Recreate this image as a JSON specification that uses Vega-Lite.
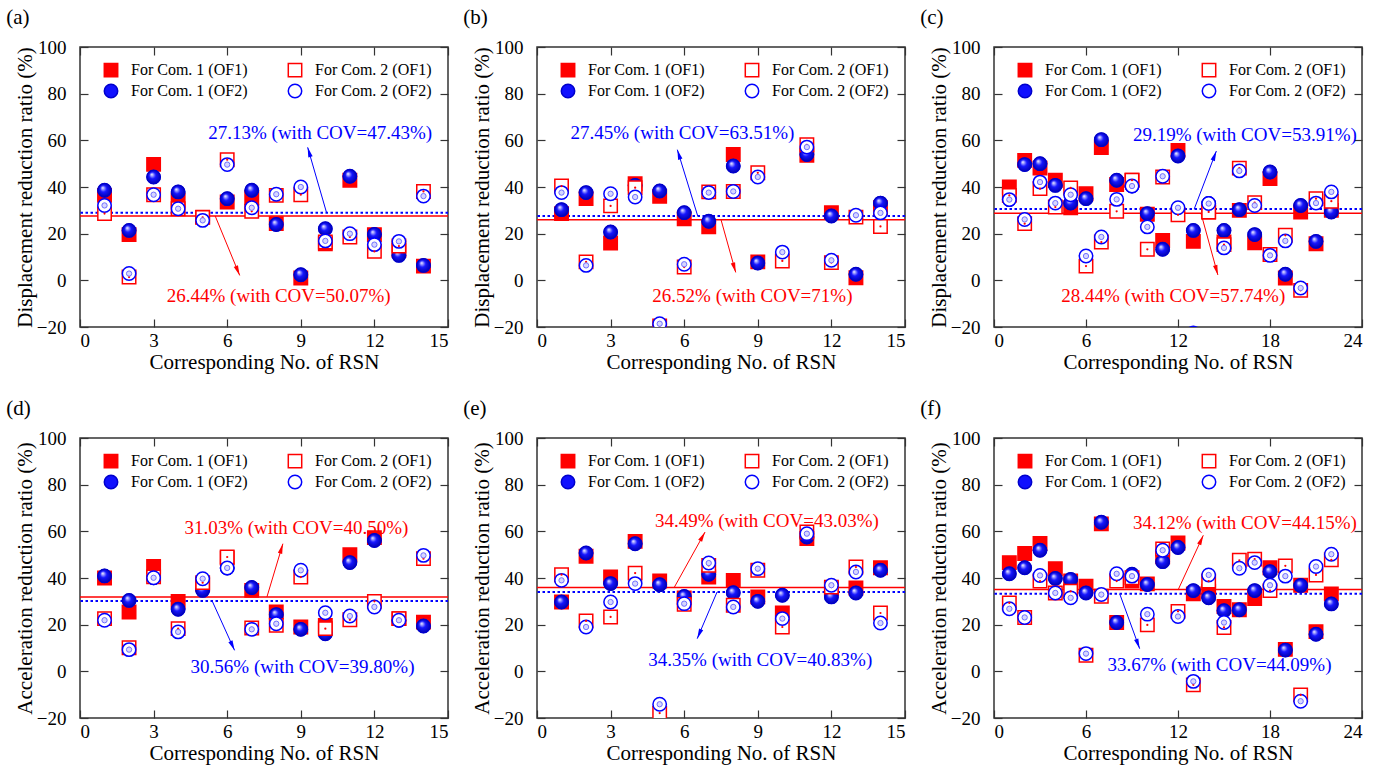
{
"$schema": "https://vega.github.io/schema/vega-lite/v6.json",
"background": "white",
"padding": {"left": 5, "top": 6, "right": 5, "bottom": 2},
"columns": 3,
"spacing": {"row": 24, "column": 12},
"resolve": {"scale": {"shape": "independent", "fill": "independent", "stroke": "independent"}},
"datasets": {
"pts": [
{"p":"a","x":1,"s":"1 (OF1)","v":36.4},{"p":"a","x":2,"s":"1 (OF1)","v":19.6},{"p":"a","x":3,"s":"1 (OF1)","v":49.7},{"p":"a","x":4,"s":"1 (OF1)","v":34.3},{"p":"a","x":5,"s":"1 (OF1)","v":27.1},{"p":"a","x":6,"s":"1 (OF1)","v":33.6},{"p":"a","x":7,"s":"1 (OF1)","v":35.4},{"p":"a","x":8,"s":"1 (OF1)","v":24.3},{"p":"a","x":9,"s":"1 (OF1)","v":1.0},{"p":"a","x":10,"s":"1 (OF1)","v":15.7},{"p":"a","x":11,"s":"1 (OF1)","v":42.9},{"p":"a","x":12,"s":"1 (OF1)","v":19.6},{"p":"a","x":13,"s":"1 (OF1)","v":12.9},{"p":"a","x":14,"s":"1 (OF1)","v":6.1},
{"p":"a","x":1,"s":"1 (OF2)","v":38.6},{"p":"a","x":2,"s":"1 (OF2)","v":21.4},{"p":"a","x":3,"s":"1 (OF2)","v":44.3},{"p":"a","x":4,"s":"1 (OF2)","v":37.9},{"p":"a","x":5,"s":"1 (OF2)","v":26.3},{"p":"a","x":6,"s":"1 (OF2)","v":35.0},{"p":"a","x":7,"s":"1 (OF2)","v":38.6},{"p":"a","x":8,"s":"1 (OF2)","v":23.9},{"p":"a","x":9,"s":"1 (OF2)","v":2.4},{"p":"a","x":10,"s":"1 (OF2)","v":22.1},{"p":"a","x":11,"s":"1 (OF2)","v":44.6},{"p":"a","x":12,"s":"1 (OF2)","v":19.7},{"p":"a","x":13,"s":"1 (OF2)","v":10.7},{"p":"a","x":14,"s":"1 (OF2)","v":6.4},
{"p":"a","x":1,"s":"2 (OF1)","v":28.6},{"p":"a","x":2,"s":"2 (OF1)","v":1.4},{"p":"a","x":3,"s":"2 (OF1)","v":36.7},{"p":"a","x":4,"s":"2 (OF1)","v":30.7},{"p":"a","x":5,"s":"2 (OF1)","v":27.0},{"p":"a","x":6,"s":"2 (OF1)","v":51.7},{"p":"a","x":7,"s":"2 (OF1)","v":29.6},{"p":"a","x":8,"s":"2 (OF1)","v":36.4},{"p":"a","x":9,"s":"2 (OF1)","v":36.7},{"p":"a","x":10,"s":"2 (OF1)","v":16.4},{"p":"a","x":11,"s":"2 (OF1)","v":18.6},{"p":"a","x":12,"s":"2 (OF1)","v":12.4},{"p":"a","x":13,"s":"2 (OF1)","v":14.7},{"p":"a","x":14,"s":"2 (OF1)","v":38.1},
{"p":"a","x":1,"s":"2 (OF2)","v":32.1},{"p":"a","x":2,"s":"2 (OF2)","v":2.9},{"p":"a","x":3,"s":"2 (OF2)","v":36.7},{"p":"a","x":4,"s":"2 (OF2)","v":30.7},{"p":"a","x":5,"s":"2 (OF2)","v":25.7},{"p":"a","x":6,"s":"2 (OF2)","v":49.6},{"p":"a","x":7,"s":"2 (OF2)","v":31.1},{"p":"a","x":8,"s":"2 (OF2)","v":36.9},{"p":"a","x":9,"s":"2 (OF2)","v":40.0},{"p":"a","x":10,"s":"2 (OF2)","v":16.9},{"p":"a","x":11,"s":"2 (OF2)","v":20.0},{"p":"a","x":12,"s":"2 (OF2)","v":15.3},{"p":"a","x":13,"s":"2 (OF2)","v":16.7},{"p":"a","x":14,"s":"2 (OF2)","v":36.1},
{"p":"b","x":1,"s":"1 (OF1)","v":28.6},{"p":"b","x":2,"s":"1 (OF1)","v":35.0},{"p":"b","x":3,"s":"1 (OF1)","v":16.0},{"p":"b","x":4,"s":"1 (OF1)","v":41.4},{"p":"b","x":5,"s":"1 (OF1)","v":36.0},{"p":"b","x":6,"s":"1 (OF1)","v":26.4},{"p":"b","x":7,"s":"1 (OF1)","v":22.9},{"p":"b","x":8,"s":"1 (OF1)","v":53.9},{"p":"b","x":9,"s":"1 (OF1)","v":7.9},{"p":"b","x":11,"s":"1 (OF1)","v":53.6},{"p":"b","x":12,"s":"1 (OF1)","v":29.0},{"p":"b","x":13,"s":"1 (OF1)","v":1.1},{"p":"b","x":14,"s":"1 (OF1)","v":31.1},
{"p":"b","x":1,"s":"1 (OF2)","v":30.3},{"p":"b","x":2,"s":"1 (OF2)","v":37.6},{"p":"b","x":3,"s":"1 (OF2)","v":20.7},{"p":"b","x":4,"s":"1 (OF2)","v":40.7},{"p":"b","x":5,"s":"1 (OF2)","v":38.3},{"p":"b","x":6,"s":"1 (OF2)","v":29.0},{"p":"b","x":7,"s":"1 (OF2)","v":25.3},{"p":"b","x":8,"s":"1 (OF2)","v":49.0},{"p":"b","x":9,"s":"1 (OF2)","v":7.4},{"p":"b","x":11,"s":"1 (OF2)","v":53.9},{"p":"b","x":12,"s":"1 (OF2)","v":27.6},{"p":"b","x":13,"s":"1 (OF2)","v":2.6},{"p":"b","x":14,"s":"1 (OF2)","v":33.1},
{"p":"b","x":1,"s":"2 (OF1)","v":40.4},{"p":"b","x":2,"s":"2 (OF1)","v":7.9},{"p":"b","x":3,"s":"2 (OF1)","v":31.9},{"p":"b","x":4,"s":"2 (OF1)","v":39.7},{"p":"b","x":5,"s":"2 (OF1)","v":-19.5},{"p":"b","x":6,"s":"2 (OF1)","v":5.7},{"p":"b","x":7,"s":"2 (OF1)","v":37.9},{"p":"b","x":8,"s":"2 (OF1)","v":38.1},{"p":"b","x":9,"s":"2 (OF1)","v":46.1},{"p":"b","x":10,"s":"2 (OF1)","v":8.3},{"p":"b","x":11,"s":"2 (OF1)","v":58.1},{"p":"b","x":12,"s":"2 (OF1)","v":7.6},{"p":"b","x":13,"s":"2 (OF1)","v":27.1},{"p":"b","x":14,"s":"2 (OF1)","v":23.1},
{"p":"b","x":1,"s":"2 (OF2)","v":37.6},{"p":"b","x":2,"s":"2 (OF2)","v":6.4},{"p":"b","x":3,"s":"2 (OF2)","v":37.1},{"p":"b","x":4,"s":"2 (OF2)","v":35.7},{"p":"b","x":5,"s":"2 (OF2)","v":-18.6},{"p":"b","x":6,"s":"2 (OF2)","v":6.9},{"p":"b","x":7,"s":"2 (OF2)","v":37.6},{"p":"b","x":8,"s":"2 (OF2)","v":38.1},{"p":"b","x":9,"s":"2 (OF2)","v":44.3},{"p":"b","x":10,"s":"2 (OF2)","v":12.1},{"p":"b","x":11,"s":"2 (OF2)","v":57.1},{"p":"b","x":12,"s":"2 (OF2)","v":8.6},{"p":"b","x":13,"s":"2 (OF2)","v":27.9},{"p":"b","x":14,"s":"2 (OF2)","v":28.9},
{"p":"c","x":1,"s":"1 (OF1)","v":40.0},{"p":"c","x":2,"s":"1 (OF1)","v":51.4},{"p":"c","x":3,"s":"1 (OF1)","v":48.1},{"p":"c","x":4,"s":"1 (OF1)","v":42.9},{"p":"c","x":5,"s":"1 (OF1)","v":31.1},{"p":"c","x":6,"s":"1 (OF1)","v":37.1},{"p":"c","x":7,"s":"1 (OF1)","v":56.9},{"p":"c","x":8,"s":"1 (OF1)","v":41.1},{"p":"c","x":9,"s":"1 (OF1)","v":42.9},{"p":"c","x":10,"s":"1 (OF1)","v":28.3},{"p":"c","x":11,"s":"1 (OF1)","v":17.1},{"p":"c","x":12,"s":"1 (OF1)","v":55.7},{"p":"c","x":13,"s":"1 (OF1)","v":16.7},{"p":"c","x":14,"s":"1 (OF1)","v":29.3},{"p":"c","x":15,"s":"1 (OF1)","v":16.4},{"p":"c","x":16,"s":"1 (OF1)","v":30.0},{"p":"c","x":17,"s":"1 (OF1)","v":16.1},{"p":"c","x":18,"s":"1 (OF1)","v":43.6},{"p":"c","x":19,"s":"1 (OF1)","v":1.0},{"p":"c","x":20,"s":"1 (OF1)","v":29.3},{"p":"c","x":21,"s":"1 (OF1)","v":15.7},{"p":"c","x":22,"s":"1 (OF1)","v":30.0},
{"p":"c","x":1,"s":"1 (OF2)","v":34.6},{"p":"c","x":2,"s":"1 (OF2)","v":49.6},{"p":"c","x":3,"s":"1 (OF2)","v":50.0},{"p":"c","x":4,"s":"1 (OF2)","v":40.7},{"p":"c","x":5,"s":"1 (OF2)","v":33.1},{"p":"c","x":6,"s":"1 (OF2)","v":35.0},{"p":"c","x":7,"s":"1 (OF2)","v":60.3},{"p":"c","x":8,"s":"1 (OF2)","v":42.9},{"p":"c","x":9,"s":"1 (OF2)","v":40.4},{"p":"c","x":10,"s":"1 (OF2)","v":28.6},{"p":"c","x":11,"s":"1 (OF2)","v":13.3},{"p":"c","x":12,"s":"1 (OF2)","v":53.3},{"p":"c","x":13,"s":"1 (OF2)","v":21.4},{"p":"c","x":14,"s":"1 (OF2)","v":32.9},{"p":"c","x":15,"s":"1 (OF2)","v":21.4},{"p":"c","x":16,"s":"1 (OF2)","v":30.3},{"p":"c","x":17,"s":"1 (OF2)","v":19.6},{"p":"c","x":18,"s":"1 (OF2)","v":46.4},{"p":"c","x":19,"s":"1 (OF2)","v":2.6},{"p":"c","x":20,"s":"1 (OF2)","v":32.1},{"p":"c","x":21,"s":"1 (OF2)","v":16.7},{"p":"c","x":22,"s":"1 (OF2)","v":29.3},
{"p":"c","x":1,"s":"2 (OF1)","v":36.4},{"p":"c","x":2,"s":"2 (OF1)","v":24.3},{"p":"c","x":3,"s":"2 (OF1)","v":39.3},{"p":"c","x":4,"s":"2 (OF1)","v":31.4},{"p":"c","x":5,"s":"2 (OF1)","v":39.6},{"p":"c","x":6,"s":"2 (OF1)","v":6.1},{"p":"c","x":7,"s":"2 (OF1)","v":16.4},{"p":"c","x":8,"s":"2 (OF1)","v":29.6},{"p":"c","x":9,"s":"2 (OF1)","v":42.9},{"p":"c","x":10,"s":"2 (OF1)","v":13.3},{"p":"c","x":11,"s":"2 (OF1)","v":44.3},{"p":"c","x":12,"s":"2 (OF1)","v":28.1},{"p":"c","x":13,"s":"2 (OF1)","v":-25.0},{"p":"c","x":14,"s":"2 (OF1)","v":29.3},{"p":"c","x":15,"s":"2 (OF1)","v":15.3},{"p":"c","x":16,"s":"2 (OF1)","v":48.1},{"p":"c","x":17,"s":"2 (OF1)","v":33.3},{"p":"c","x":18,"s":"2 (OF1)","v":11.1},{"p":"c","x":19,"s":"2 (OF1)","v":19.3},{"p":"c","x":20,"s":"2 (OF1)","v":-4.3},{"p":"c","x":21,"s":"2 (OF1)","v":35.0},{"p":"c","x":22,"s":"2 (OF1)","v":33.9},
{"p":"c","x":1,"s":"2 (OF2)","v":34.6},{"p":"c","x":2,"s":"2 (OF2)","v":26.1},{"p":"c","x":3,"s":"2 (OF2)","v":42.1},{"p":"c","x":4,"s":"2 (OF2)","v":33.1},{"p":"c","x":5,"s":"2 (OF2)","v":36.7},{"p":"c","x":6,"s":"2 (OF2)","v":10.4},{"p":"c","x":7,"s":"2 (OF2)","v":18.6},{"p":"c","x":8,"s":"2 (OF2)","v":34.7},{"p":"c","x":9,"s":"2 (OF2)","v":40.4},{"p":"c","x":10,"s":"2 (OF2)","v":22.9},{"p":"c","x":11,"s":"2 (OF2)","v":44.6},{"p":"c","x":12,"s":"2 (OF2)","v":31.1},{"p":"c","x":13,"s":"2 (OF2)","v":-22.5},{"p":"c","x":14,"s":"2 (OF2)","v":32.9},{"p":"c","x":15,"s":"2 (OF2)","v":13.9},{"p":"c","x":16,"s":"2 (OF2)","v":46.9},{"p":"c","x":17,"s":"2 (OF2)","v":32.1},{"p":"c","x":18,"s":"2 (OF2)","v":10.7},{"p":"c","x":19,"s":"2 (OF2)","v":16.9},{"p":"c","x":20,"s":"2 (OF2)","v":-3.3},{"p":"c","x":21,"s":"2 (OF2)","v":33.1},{"p":"c","x":22,"s":"2 (OF2)","v":37.9},
{"p":"d","x":1,"s":"1 (OF1)","v":40.0},{"p":"d","x":2,"s":"1 (OF1)","v":25.4},{"p":"d","x":3,"s":"1 (OF1)","v":45.0},{"p":"d","x":4,"s":"1 (OF1)","v":30.0},{"p":"d","x":5,"s":"1 (OF1)","v":37.3},{"p":"d","x":6,"s":"1 (OF1)","v":48.6},{"p":"d","x":7,"s":"1 (OF1)","v":34.7},{"p":"d","x":8,"s":"1 (OF1)","v":25.4},{"p":"d","x":9,"s":"1 (OF1)","v":19.0},{"p":"d","x":10,"s":"1 (OF1)","v":19.7},{"p":"d","x":11,"s":"1 (OF1)","v":50.0},{"p":"d","x":12,"s":"1 (OF1)","v":57.3},{"p":"d","x":13,"s":"1 (OF1)","v":22.6},{"p":"d","x":14,"s":"1 (OF1)","v":21.1},
{"p":"d","x":1,"s":"1 (OF2)","v":40.9},{"p":"d","x":2,"s":"1 (OF2)","v":30.4},{"p":"d","x":3,"s":"1 (OF2)","v":40.1},{"p":"d","x":4,"s":"1 (OF2)","v":26.6},{"p":"d","x":5,"s":"1 (OF2)","v":34.7},{"p":"d","x":6,"s":"1 (OF2)","v":44.3},{"p":"d","x":7,"s":"1 (OF2)","v":35.9},{"p":"d","x":8,"s":"1 (OF2)","v":24.3},{"p":"d","x":9,"s":"1 (OF2)","v":18.0},{"p":"d","x":10,"s":"1 (OF2)","v":16.1},{"p":"d","x":11,"s":"1 (OF2)","v":46.6},{"p":"d","x":12,"s":"1 (OF2)","v":56.1},{"p":"d","x":13,"s":"1 (OF2)","v":21.9},{"p":"d","x":14,"s":"1 (OF2)","v":19.4},
{"p":"d","x":1,"s":"2 (OF1)","v":22.6},{"p":"d","x":2,"s":"2 (OF1)","v":10.1},{"p":"d","x":3,"s":"2 (OF1)","v":40.5},{"p":"d","x":4,"s":"2 (OF1)","v":18.3},{"p":"d","x":5,"s":"2 (OF1)","v":38.0},{"p":"d","x":6,"s":"2 (OF1)","v":49.0},{"p":"d","x":7,"s":"2 (OF1)","v":18.6},{"p":"d","x":8,"s":"2 (OF1)","v":19.7},{"p":"d","x":9,"s":"2 (OF1)","v":40.4},{"p":"d","x":10,"s":"2 (OF1)","v":18.3},{"p":"d","x":11,"s":"2 (OF1)","v":22.1},{"p":"d","x":12,"s":"2 (OF1)","v":30.0},{"p":"d","x":13,"s":"2 (OF1)","v":22.6},{"p":"d","x":14,"s":"2 (OF1)","v":48.3},
{"p":"d","x":1,"s":"2 (OF2)","v":21.9},{"p":"d","x":2,"s":"2 (OF2)","v":9.3},{"p":"d","x":3,"s":"2 (OF2)","v":40.1},{"p":"d","x":4,"s":"2 (OF2)","v":16.9},{"p":"d","x":5,"s":"2 (OF2)","v":39.7},{"p":"d","x":6,"s":"2 (OF2)","v":44.3},{"p":"d","x":7,"s":"2 (OF2)","v":18.0},{"p":"d","x":8,"s":"2 (OF2)","v":20.4},{"p":"d","x":9,"s":"2 (OF2)","v":43.3},{"p":"d","x":10,"s":"2 (OF2)","v":25.1},{"p":"d","x":11,"s":"2 (OF2)","v":23.7},{"p":"d","x":12,"s":"2 (OF2)","v":27.6},{"p":"d","x":13,"s":"2 (OF2)","v":21.9},{"p":"d","x":14,"s":"2 (OF2)","v":49.7},
{"p":"e","x":1,"s":"1 (OF1)","v":29.7},{"p":"e","x":2,"s":"1 (OF1)","v":49.3},{"p":"e","x":3,"s":"1 (OF1)","v":40.4},{"p":"e","x":4,"s":"1 (OF1)","v":55.7},{"p":"e","x":5,"s":"1 (OF1)","v":38.7},{"p":"e","x":6,"s":"1 (OF1)","v":31.5},{"p":"e","x":7,"s":"1 (OF1)","v":40.4},{"p":"e","x":8,"s":"1 (OF1)","v":39.0},{"p":"e","x":9,"s":"1 (OF1)","v":31.9},{"p":"e","x":10,"s":"1 (OF1)","v":25.0},{"p":"e","x":11,"s":"1 (OF1)","v":56.9},{"p":"e","x":12,"s":"1 (OF1)","v":35.4},{"p":"e","x":13,"s":"1 (OF1)","v":35.7},{"p":"e","x":14,"s":"1 (OF1)","v":44.4},
{"p":"e","x":1,"s":"1 (OF2)","v":29.7},{"p":"e","x":2,"s":"1 (OF2)","v":50.7},{"p":"e","x":3,"s":"1 (OF2)","v":37.6},{"p":"e","x":4,"s":"1 (OF2)","v":54.7},{"p":"e","x":5,"s":"1 (OF2)","v":37.1},{"p":"e","x":6,"s":"1 (OF2)","v":32.1},{"p":"e","x":7,"s":"1 (OF2)","v":41.6},{"p":"e","x":8,"s":"1 (OF2)","v":33.7},{"p":"e","x":9,"s":"1 (OF2)","v":30.0},{"p":"e","x":10,"s":"1 (OF2)","v":32.6},{"p":"e","x":11,"s":"1 (OF2)","v":57.6},{"p":"e","x":12,"s":"1 (OF2)","v":31.9},{"p":"e","x":13,"s":"1 (OF2)","v":33.6},{"p":"e","x":14,"s":"1 (OF2)","v":43.3},
{"p":"e","x":1,"s":"2 (OF1)","v":41.4},{"p":"e","x":2,"s":"2 (OF1)","v":21.6},{"p":"e","x":3,"s":"2 (OF1)","v":23.3},{"p":"e","x":4,"s":"2 (OF1)","v":42.1},{"p":"e","x":5,"s":"2 (OF1)","v":-17.9},{"p":"e","x":6,"s":"2 (OF1)","v":28.7},{"p":"e","x":7,"s":"2 (OF1)","v":45.4},{"p":"e","x":8,"s":"2 (OF1)","v":28.3},{"p":"e","x":9,"s":"2 (OF1)","v":43.3},{"p":"e","x":10,"s":"2 (OF1)","v":19.0},{"p":"e","x":11,"s":"2 (OF1)","v":59.7},{"p":"e","x":12,"s":"2 (OF1)","v":36.1},{"p":"e","x":13,"s":"2 (OF1)","v":44.7},{"p":"e","x":14,"s":"2 (OF1)","v":25.0},
{"p":"e","x":1,"s":"2 (OF2)","v":39.0},{"p":"e","x":2,"s":"2 (OF2)","v":19.0},{"p":"e","x":3,"s":"2 (OF2)","v":29.7},{"p":"e","x":4,"s":"2 (OF2)","v":37.6},{"p":"e","x":5,"s":"2 (OF2)","v":-14.1},{"p":"e","x":6,"s":"2 (OF2)","v":29.0},{"p":"e","x":7,"s":"2 (OF2)","v":46.4},{"p":"e","x":8,"s":"2 (OF2)","v":27.6},{"p":"e","x":9,"s":"2 (OF2)","v":44.0},{"p":"e","x":10,"s":"2 (OF2)","v":22.6},{"p":"e","x":11,"s":"2 (OF2)","v":59.0},{"p":"e","x":12,"s":"2 (OF2)","v":36.9},{"p":"e","x":13,"s":"2 (OF2)","v":42.6},{"p":"e","x":14,"s":"2 (OF2)","v":20.7},
{"p":"f","x":1,"s":"1 (OF1)","v":46.6},{"p":"f","x":2,"s":"1 (OF1)","v":50.5},{"p":"f","x":3,"s":"1 (OF1)","v":54.8},{"p":"f","x":4,"s":"1 (OF1)","v":44.0},{"p":"f","x":5,"s":"1 (OF1)","v":38.7},{"p":"f","x":6,"s":"1 (OF1)","v":36.5},{"p":"f","x":7,"s":"1 (OF1)","v":63.2},{"p":"f","x":8,"s":"1 (OF1)","v":20.9},{"p":"f","x":9,"s":"1 (OF1)","v":38.7},{"p":"f","x":10,"s":"1 (OF1)","v":37.5},{"p":"f","x":11,"s":"1 (OF1)","v":49.1},{"p":"f","x":12,"s":"1 (OF1)","v":55.0},{"p":"f","x":13,"s":"1 (OF1)","v":33.2},{"p":"f","x":14,"s":"1 (OF1)","v":34.3},{"p":"f","x":15,"s":"1 (OF1)","v":27.8},{"p":"f","x":16,"s":"1 (OF1)","v":26.4},{"p":"f","x":17,"s":"1 (OF1)","v":31.2},{"p":"f","x":18,"s":"1 (OF1)","v":44.4},{"p":"f","x":19,"s":"1 (OF1)","v":9.4},{"p":"f","x":20,"s":"1 (OF1)","v":36.9},{"p":"f","x":21,"s":"1 (OF1)","v":17.0},{"p":"f","x":22,"s":"1 (OF1)","v":33.2},
{"p":"f","x":1,"s":"1 (OF2)","v":41.8},{"p":"f","x":2,"s":"1 (OF2)","v":44.4},{"p":"f","x":3,"s":"1 (OF2)","v":51.9},{"p":"f","x":4,"s":"1 (OF2)","v":39.8},{"p":"f","x":5,"s":"1 (OF2)","v":39.4},{"p":"f","x":6,"s":"1 (OF2)","v":33.6},{"p":"f","x":7,"s":"1 (OF2)","v":63.9},{"p":"f","x":8,"s":"1 (OF2)","v":20.9},{"p":"f","x":9,"s":"1 (OF2)","v":41.6},{"p":"f","x":10,"s":"1 (OF2)","v":37.2},{"p":"f","x":11,"s":"1 (OF2)","v":47.0},{"p":"f","x":12,"s":"1 (OF2)","v":53.1},{"p":"f","x":13,"s":"1 (OF2)","v":34.6},{"p":"f","x":14,"s":"1 (OF2)","v":31.5},{"p":"f","x":15,"s":"1 (OF2)","v":26.0},{"p":"f","x":16,"s":"1 (OF2)","v":26.4},{"p":"f","x":17,"s":"1 (OF2)","v":34.6},{"p":"f","x":18,"s":"1 (OF2)","v":42.7},{"p":"f","x":19,"s":"1 (OF2)","v":9.1},{"p":"f","x":20,"s":"1 (OF2)","v":36.8},{"p":"f","x":21,"s":"1 (OF2)","v":15.9},{"p":"f","x":22,"s":"1 (OF2)","v":28.9},
{"p":"f","x":1,"s":"2 (OF1)","v":29.3},{"p":"f","x":2,"s":"2 (OF1)","v":23.1},{"p":"f","x":3,"s":"2 (OF1)","v":38.7},{"p":"f","x":4,"s":"2 (OF1)","v":33.6},{"p":"f","x":5,"s":"2 (OF1)","v":34.3},{"p":"f","x":6,"s":"2 (OF1)","v":6.9},{"p":"f","x":7,"s":"2 (OF1)","v":32.2},{"p":"f","x":8,"s":"2 (OF1)","v":38.7},{"p":"f","x":9,"s":"2 (OF1)","v":40.1},{"p":"f","x":10,"s":"2 (OF1)","v":19.9},{"p":"f","x":11,"s":"2 (OF1)","v":52.4},{"p":"f","x":12,"s":"2 (OF1)","v":25.7},{"p":"f","x":13,"s":"2 (OF1)","v":-5.8},{"p":"f","x":14,"s":"2 (OF1)","v":38.7},{"p":"f","x":15,"s":"2 (OF1)","v":18.8},{"p":"f","x":16,"s":"2 (OF1)","v":47.6},{"p":"f","x":17,"s":"2 (OF1)","v":48.1},{"p":"f","x":18,"s":"2 (OF1)","v":34.6},{"p":"f","x":19,"s":"2 (OF1)","v":45.2},{"p":"f","x":20,"s":"2 (OF1)","v":-10.1},{"p":"f","x":21,"s":"2 (OF1)","v":41.3},{"p":"f","x":22,"s":"2 (OF1)","v":47.8},
{"p":"f","x":1,"s":"2 (OF2)","v":26.8},{"p":"f","x":2,"s":"2 (OF2)","v":23.1},{"p":"f","x":3,"s":"2 (OF2)","v":41.1},{"p":"f","x":4,"s":"2 (OF2)","v":33.6},{"p":"f","x":5,"s":"2 (OF2)","v":31.5},{"p":"f","x":6,"s":"2 (OF2)","v":7.6},{"p":"f","x":7,"s":"2 (OF2)","v":32.9},{"p":"f","x":8,"s":"2 (OF2)","v":41.8},{"p":"f","x":9,"s":"2 (OF2)","v":40.8},{"p":"f","x":10,"s":"2 (OF2)","v":24.5},{"p":"f","x":11,"s":"2 (OF2)","v":51.9},{"p":"f","x":12,"s":"2 (OF2)","v":23.5},{"p":"f","x":13,"s":"2 (OF2)","v":-4.3},{"p":"f","x":14,"s":"2 (OF2)","v":41.3},{"p":"f","x":15,"s":"2 (OF2)","v":20.9},{"p":"f","x":16,"s":"2 (OF2)","v":44.2},{"p":"f","x":17,"s":"2 (OF2)","v":46.6},{"p":"f","x":18,"s":"2 (OF2)","v":36.9},{"p":"f","x":19,"s":"2 (OF2)","v":40.8},{"p":"f","x":20,"s":"2 (OF2)","v":-12.8},{"p":"f","x":21,"s":"2 (OF2)","v":44.9},{"p":"f","x":22,"s":"2 (OF2)","v":50.2}
],
"means": [
{"p":"a","of":"OF1","v":27.6},{"p":"a","of":"OF2","v":29.0},
{"p":"b","of":"OF1","v":26.0},{"p":"b","of":"OF2","v":27.6},
{"p":"c","of":"OF1","v":28.7},{"p":"c","of":"OF2","v":30.6},
{"p":"d","of":"OF1","v":31.9},{"p":"d","of":"OF2","v":30.1},
{"p":"e","of":"OF1","v":35.9},{"p":"e","of":"OF2","v":34.0},
{"p":"f","of":"OF1","v":35.1},{"p":"f","of":"OF2","v":33.2}
],
"arrows": [
{"p":"a","of":"OF1","x":5.51,"y":27.6,"x2":6.51,"y2":2.1},{"p":"a","of":"OF2","x":10.05,"y":29.0,"x2":9.28,"y2":57.0},
{"p":"b","of":"OF1","x":7.5,"y":26.0,"x2":8.1,"y2":3.4},{"p":"b","of":"OF2","x":6.55,"y":27.6,"x2":5.72,"y2":56.0},
{"p":"c","of":"OF1","x":13.5,"y":28.7,"x2":14.6,"y2":2.3},{"p":"c","of":"OF2","x":13.06,"y":30.6,"x2":14.5,"y2":55.4},
{"p":"d","of":"OF1","x":7.62,"y":31.9,"x2":8.27,"y2":54.7},{"p":"d","of":"OF2","x":5.39,"y":30.1,"x2":6.3,"y2":9.0},
{"p":"e","of":"OF1","x":5.59,"y":35.9,"x2":6.85,"y2":59.7},{"p":"e","of":"OF2","x":7.34,"y":34.0,"x2":6.53,"y2":14.0},
{"p":"f","of":"OF1","x":12.02,"y":35.1,"x2":13.65,"y2":58.3},{"p":"f","of":"OF2","x":8.2,"y":33.2,"x2":9.5,"y2":9.7}
],
"notes": [
{"p":"a","of":"OF2","x":9.79,"y":63,"t":"27.13% (with COV=47.43%)"},{"p":"a","of":"OF1","x":8.1,"y":-6.9,"t":"26.44% (with COV=50.07%)"},
{"p":"b","of":"OF2","x":5.93,"y":63,"t":"27.45% (with COV=63.51%)"},{"p":"b","of":"OF1","x":8.78,"y":-6.9,"t":"26.52% (with COV=71%)"},
{"p":"c","of":"OF2","x":16.36,"y":62.3,"t":"29.19% (with COV=53.91%)"},{"p":"c","of":"OF1","x":11.69,"y":-6.5,"t":"28.44% (with COV=57.74%)"},
{"p":"d","of":"OF1","x":8.82,"y":61.4,"t":"31.03% (with COV=40.50%)"},{"p":"d","of":"OF2","x":9.07,"y":1.8,"t":"30.56% (with COV=39.80%)"},
{"p":"e","of":"OF1","x":9.37,"y":64.5,"t":"34.49% (with COV=43.03%)"},{"p":"e","of":"OF2","x":9.1,"y":5,"t":"34.35% (with COV=40.83%)"},
{"p":"f","of":"OF1","x":16.36,"y":63.7,"t":"34.12% (with COV=44.15%)"},{"p":"f","of":"OF2","x":14.71,"y":2.6,"t":"33.67% (with COV=44.09%)"}
]
},
"concat": [
{"title": "(a)", "width": 368, "height": 280, "resolve": {"axis": {"x": "independent", "y": "independent"}},
"layer": [
{"data": {"name": "means"}, "transform": [{"filter": "datum.p === 'a'"}], "mark": {"type": "rule"},
 "encoding": {"y": {"field": "v", "type": "quantitative", "scale": {"domain": [-20, 100], "nice": false, "zero": false}, "axis": null},
  "color": {"field": "of", "type": "nominal", "scale": {"domain": ["OF1", "OF2"], "range": ["#ff0000", "#0000ff"]}, "legend": null},
  "strokeDash": {"field": "of", "type": "nominal", "scale": {"domain": ["OF1", "OF2"], "range": [[1, 0], [2.5, 2.5]]}, "legend": null},
  "strokeWidth": {"field": "of", "type": "nominal", "scale": {"domain": ["OF1", "OF2"], "range": [1.5, 2]}, "legend": null}}},
{"data": {"name": "arrows"}, "transform": [{"filter": "datum.p === 'a'"}], "mark": {"type": "rule", "strokeWidth": 1},
 "encoding": {"x": {"field": "x", "type": "quantitative", "scale": {"domain": [0, 15], "nice": false, "zero": false}, "axis": {"orient": "bottom", "values": [0, 3, 6, 9, 12, 15], "title": "Corresponding No. of RSN"}},
  "y": {"field": "y", "type": "quantitative", "scale": {"domain": [-20, 100], "nice": false, "zero": false}, "axis": {"orient": "left", "values": [-20, 0, 20, 40, 60, 80, 100], "title": "Displacement reduction ratio (%)"}},
  "x2": {"field": "x2"}, "y2": {"field": "y2"},
  "color": {"field": "of", "type": "nominal", "scale": {"domain": ["OF1", "OF2"], "range": ["#ff0000", "#0000ff"]}, "legend": null}}},
{"data": {"name": "arrows"}, "transform": [{"filter": "datum.p === 'a' && datum.of === 'OF1'"}], "mark": {"type": "point", "shape": "M0,0L0.45,2L-0.45,2Z", "filled": true, "color": "#ff0000", "opacity": 1, "size": 100, "angle": 157.3, "strokeWidth": 0},
 "encoding": {"x": {"field": "x2", "type": "quantitative", "scale": {"domain": [0, 15], "nice": false, "zero": false}, "axis": null}, "y": {"field": "y2", "type": "quantitative", "scale": {"domain": [-20, 100], "nice": false, "zero": false}, "axis": null}}},
{"data": {"name": "arrows"}, "transform": [{"filter": "datum.p === 'a' && datum.of === 'OF2'"}], "mark": {"type": "point", "shape": "M0,0L0.45,2L-0.45,2Z", "filled": true, "color": "#0000ff", "opacity": 1, "size": 100, "angle": 343.7, "strokeWidth": 0},
 "encoding": {"x": {"field": "x2", "type": "quantitative", "scale": {"domain": [0, 15], "nice": false, "zero": false}, "axis": null}, "y": {"field": "y2", "type": "quantitative", "scale": {"domain": [-20, 100], "nice": false, "zero": false}, "axis": null}}},
{"data": {"name": "notes"}, "transform": [{"filter": "datum.p === 'a'"}], "mark": {"type": "text", "fontSize": 19, "font": "Liberation Serif"},
 "encoding": {"x": {"field": "x", "type": "quantitative", "scale": {"domain": [0, 15], "nice": false, "zero": false}, "axis": null}, "y": {"field": "y", "type": "quantitative", "scale": {"domain": [-20, 100], "nice": false, "zero": false}, "axis": null}, "text": {"field": "t"},
  "color": {"field": "of", "type": "nominal", "scale": {"domain": ["OF1", "OF2"], "range": ["#ff0000", "#0000ff"]}, "legend": null}}},
{"data": {"name": "pts"}, "transform": [{"filter": "datum.p === 'a' && (datum.s === '1 (OF1)' || datum.s === '1 (OF2)')"}], "mark": {"type": "point", "filled": true, "size": 180, "strokeWidth": 1.5, "opacity": 1, "clip": true},
 "encoding": {"x": {"field": "x", "type": "quantitative", "scale": {"domain": [0, 15], "nice": false, "zero": false}, "axis": {"orient": "top", "values": [0, 3, 6, 9, 12, 15], "labels": false, "title": null}},
  "y": {"field": "v", "type": "quantitative", "scale": {"domain": [-20, 100], "nice": false, "zero": false}, "axis": {"orient": "right", "values": [-20, 0, 20, 40, 60, 80, 100], "labels": false, "title": null}},
  "shape": {"field": "s", "type": "nominal", "scale": {"domain": ["1 (OF1)", "1 (OF2)", "2 (OF1)", "2 (OF2)"], "range": ["square", "circle", "square", "circle"]}, "legend": {"title": null, "orient": "none", "legendX": 23, "legendY": 15, "columns": 2, "columnPadding": 37, "rowPadding": 1, "labelExpr": "'For Com. ' + datum.label"}},
  "fill": {"field": "s", "type": "nominal", "scale": {"domain": ["1 (OF1)", "1 (OF2)", "2 (OF1)", "2 (OF2)"], "range": ["#ff0000", "#1010ff", "#ffffff", "#ffffff"]}, "legend": {"title": null, "orient": "none", "legendX": 23, "legendY": 15, "columns": 2, "columnPadding": 37, "rowPadding": 1, "labelExpr": "'For Com. ' + datum.label"}},
  "stroke": {"field": "s", "type": "nominal", "scale": {"domain": ["1 (OF1)", "1 (OF2)", "2 (OF1)", "2 (OF2)"], "range": ["#ff0000", "#0000cc", "#ff0000", "#0000ff"]}, "legend": {"title": null, "orient": "none", "legendX": 23, "legendY": 15, "columns": 2, "columnPadding": 37, "rowPadding": 1, "labelExpr": "'For Com. ' + datum.label"}}}},
{"data": {"name": "pts"}, "transform": [{"filter": "datum.p === 'a' && datum.s === '1 (OF2)'"}], "mark": {"type": "point", "filled": true, "shape": "circle", "size": 180, "strokeWidth": 1, "stroke": "#0000cc", "opacity": 1, "clip": true, "fill": {"gradient": "radial", "x1": 0.35, "y1": 0.3, "r1": 0, "x2": 0.5, "y2": 0.5, "r2": 0.55, "stops": [{"offset": 0, "color": "#ffffff"}, {"offset": 0.18, "color": "#a0a0ff"}, {"offset": 0.45, "color": "#1515ff"}, {"offset": 1, "color": "#0000a8"}]}},
 "encoding": {"x": {"field": "x", "type": "quantitative", "scale": {"domain": [0, 15], "nice": false, "zero": false}, "axis": null}, "y": {"field": "v", "type": "quantitative", "scale": {"domain": [-20, 100], "nice": false, "zero": false}, "axis": null}}},
{"data": {"name": "pts"}, "transform": [{"filter": "datum.p === 'a' && (datum.s === '2 (OF1)' || datum.s === '2 (OF2)')"}], "mark": {"type": "point", "filled": true, "size": 180, "strokeWidth": 1.5, "opacity": 1, "clip": true},
 "encoding": {"x": {"field": "x", "type": "quantitative", "scale": {"domain": [0, 15], "nice": false, "zero": false}, "axis": null},
  "y": {"field": "v", "type": "quantitative", "scale": {"domain": [-20, 100], "nice": false, "zero": false}, "axis": null},
  "shape": {"field": "s", "type": "nominal", "scale": {"domain": ["1 (OF1)", "1 (OF2)", "2 (OF1)", "2 (OF2)"], "range": ["square", "circle", "square", "circle"]}, "legend": {"title": null, "orient": "none", "legendX": 23, "legendY": 15, "columns": 2, "columnPadding": 37, "rowPadding": 1, "labelExpr": "'For Com. ' + datum.label"}},
  "fill": {"field": "s", "type": "nominal", "scale": {"domain": ["1 (OF1)", "1 (OF2)", "2 (OF1)", "2 (OF2)"], "range": ["#ff0000", "#1010ff", "#ffffff", "#ffffff"]}, "legend": {"title": null, "orient": "none", "legendX": 23, "legendY": 15, "columns": 2, "columnPadding": 37, "rowPadding": 1, "labelExpr": "'For Com. ' + datum.label"}},
  "stroke": {"field": "s", "type": "nominal", "scale": {"domain": ["1 (OF1)", "1 (OF2)", "2 (OF1)", "2 (OF2)"], "range": ["#ff0000", "#0000cc", "#ff0000", "#0000ff"]}, "legend": {"title": null, "orient": "none", "legendX": 23, "legendY": 15, "columns": 2, "columnPadding": 37, "rowPadding": 1, "labelExpr": "'For Com. ' + datum.label"}}}},
{"data": {"name": "pts"}, "transform": [{"filter": "datum.p === 'a' && datum.s === '2 (OF1)'"}], "mark": {"type": "point", "filled": true, "shape": "circle", "size": 5, "color": "#ff0000", "opacity": 1, "clip": true},
 "encoding": {"x": {"field": "x", "type": "quantitative", "scale": {"domain": [0, 15], "nice": false, "zero": false}, "axis": null}, "y": {"field": "v", "type": "quantitative", "scale": {"domain": [-20, 100], "nice": false, "zero": false}, "axis": null}}},
{"data": {"name": "pts"}, "transform": [{"filter": "datum.p === 'a' && datum.s === '2 (OF2)'"}], "mark": {"type": "point", "filled": true, "shape": "circle", "size": 28, "fill": "#d6d6ff", "stroke": "#7070ff", "strokeWidth": 1, "opacity": 1, "clip": true},
 "encoding": {"x": {"field": "x", "type": "quantitative", "scale": {"domain": [0, 15], "nice": false, "zero": false}, "axis": null}, "y": {"field": "v", "type": "quantitative", "scale": {"domain": [-20, 100], "nice": false, "zero": false}, "axis": null}}}
]},
{"title": "(b)", "width": 368, "height": 280, "resolve": {"axis": {"x": "independent", "y": "independent"}},
"layer": [
{"data": {"name": "means"}, "transform": [{"filter": "datum.p === 'b'"}], "mark": {"type": "rule"},
 "encoding": {"y": {"field": "v", "type": "quantitative", "scale": {"domain": [-20, 100], "nice": false, "zero": false}, "axis": null},
  "color": {"field": "of", "type": "nominal", "scale": {"domain": ["OF1", "OF2"], "range": ["#ff0000", "#0000ff"]}, "legend": null},
  "strokeDash": {"field": "of", "type": "nominal", "scale": {"domain": ["OF1", "OF2"], "range": [[1, 0], [2.5, 2.5]]}, "legend": null},
  "strokeWidth": {"field": "of", "type": "nominal", "scale": {"domain": ["OF1", "OF2"], "range": [1.5, 2]}, "legend": null}}},
{"data": {"name": "arrows"}, "transform": [{"filter": "datum.p === 'b'"}], "mark": {"type": "rule", "strokeWidth": 1},
 "encoding": {"x": {"field": "x", "type": "quantitative", "scale": {"domain": [0, 15], "nice": false, "zero": false}, "axis": {"orient": "bottom", "values": [0, 3, 6, 9, 12, 15], "title": "Corresponding No. of RSN"}},
  "y": {"field": "y", "type": "quantitative", "scale": {"domain": [-20, 100], "nice": false, "zero": false}, "axis": {"orient": "left", "values": [-20, 0, 20, 40, 60, 80, 100], "title": "Displacement reduction ratio (%)"}},
  "x2": {"field": "x2"}, "y2": {"field": "y2"},
  "color": {"field": "of", "type": "nominal", "scale": {"domain": ["OF1", "OF2"], "range": ["#ff0000", "#0000ff"]}, "legend": null}}},
{"data": {"name": "arrows"}, "transform": [{"filter": "datum.p === 'b' && datum.of === 'OF1'"}], "mark": {"type": "point", "shape": "M0,0L0.45,2L-0.45,2Z", "filled": true, "color": "#ff0000", "opacity": 1, "size": 100, "angle": 163.8, "strokeWidth": 0},
 "encoding": {"x": {"field": "x2", "type": "quantitative", "scale": {"domain": [0, 15], "nice": false, "zero": false}, "axis": null}, "y": {"field": "y2", "type": "quantitative", "scale": {"domain": [-20, 100], "nice": false, "zero": false}, "axis": null}}},
{"data": {"name": "arrows"}, "transform": [{"filter": "datum.p === 'b' && datum.of === 'OF2'"}], "mark": {"type": "point", "shape": "M0,0L0.45,2L-0.45,2Z", "filled": true, "color": "#0000ff", "opacity": 1, "size": 100, "angle": 342.8, "strokeWidth": 0},
 "encoding": {"x": {"field": "x2", "type": "quantitative", "scale": {"domain": [0, 15], "nice": false, "zero": false}, "axis": null}, "y": {"field": "y2", "type": "quantitative", "scale": {"domain": [-20, 100], "nice": false, "zero": false}, "axis": null}}},
{"data": {"name": "notes"}, "transform": [{"filter": "datum.p === 'b'"}], "mark": {"type": "text", "fontSize": 19, "font": "Liberation Serif"},
 "encoding": {"x": {"field": "x", "type": "quantitative", "scale": {"domain": [0, 15], "nice": false, "zero": false}, "axis": null}, "y": {"field": "y", "type": "quantitative", "scale": {"domain": [-20, 100], "nice": false, "zero": false}, "axis": null}, "text": {"field": "t"},
  "color": {"field": "of", "type": "nominal", "scale": {"domain": ["OF1", "OF2"], "range": ["#ff0000", "#0000ff"]}, "legend": null}}},
{"data": {"name": "pts"}, "transform": [{"filter": "datum.p === 'b' && (datum.s === '1 (OF1)' || datum.s === '1 (OF2)')"}], "mark": {"type": "point", "filled": true, "size": 180, "strokeWidth": 1.5, "opacity": 1, "clip": true},
 "encoding": {"x": {"field": "x", "type": "quantitative", "scale": {"domain": [0, 15], "nice": false, "zero": false}, "axis": {"orient": "top", "values": [0, 3, 6, 9, 12, 15], "labels": false, "title": null}},
  "y": {"field": "v", "type": "quantitative", "scale": {"domain": [-20, 100], "nice": false, "zero": false}, "axis": {"orient": "right", "values": [-20, 0, 20, 40, 60, 80, 100], "labels": false, "title": null}},
  "shape": {"field": "s", "type": "nominal", "scale": {"domain": ["1 (OF1)", "1 (OF2)", "2 (OF1)", "2 (OF2)"], "range": ["square", "circle", "square", "circle"]}, "legend": {"title": null, "orient": "none", "legendX": 23, "legendY": 15, "columns": 2, "columnPadding": 37, "rowPadding": 1, "labelExpr": "'For Com. ' + datum.label"}},
  "fill": {"field": "s", "type": "nominal", "scale": {"domain": ["1 (OF1)", "1 (OF2)", "2 (OF1)", "2 (OF2)"], "range": ["#ff0000", "#1010ff", "#ffffff", "#ffffff"]}, "legend": {"title": null, "orient": "none", "legendX": 23, "legendY": 15, "columns": 2, "columnPadding": 37, "rowPadding": 1, "labelExpr": "'For Com. ' + datum.label"}},
  "stroke": {"field": "s", "type": "nominal", "scale": {"domain": ["1 (OF1)", "1 (OF2)", "2 (OF1)", "2 (OF2)"], "range": ["#ff0000", "#0000cc", "#ff0000", "#0000ff"]}, "legend": {"title": null, "orient": "none", "legendX": 23, "legendY": 15, "columns": 2, "columnPadding": 37, "rowPadding": 1, "labelExpr": "'For Com. ' + datum.label"}}}},
{"data": {"name": "pts"}, "transform": [{"filter": "datum.p === 'b' && datum.s === '1 (OF2)'"}], "mark": {"type": "point", "filled": true, "shape": "circle", "size": 180, "strokeWidth": 1, "stroke": "#0000cc", "opacity": 1, "clip": true, "fill": {"gradient": "radial", "x1": 0.35, "y1": 0.3, "r1": 0, "x2": 0.5, "y2": 0.5, "r2": 0.55, "stops": [{"offset": 0, "color": "#ffffff"}, {"offset": 0.18, "color": "#a0a0ff"}, {"offset": 0.45, "color": "#1515ff"}, {"offset": 1, "color": "#0000a8"}]}},
 "encoding": {"x": {"field": "x", "type": "quantitative", "scale": {"domain": [0, 15], "nice": false, "zero": false}, "axis": null}, "y": {"field": "v", "type": "quantitative", "scale": {"domain": [-20, 100], "nice": false, "zero": false}, "axis": null}}},
{"data": {"name": "pts"}, "transform": [{"filter": "datum.p === 'b' && (datum.s === '2 (OF1)' || datum.s === '2 (OF2)')"}], "mark": {"type": "point", "filled": true, "size": 180, "strokeWidth": 1.5, "opacity": 1, "clip": true},
 "encoding": {"x": {"field": "x", "type": "quantitative", "scale": {"domain": [0, 15], "nice": false, "zero": false}, "axis": null},
  "y": {"field": "v", "type": "quantitative", "scale": {"domain": [-20, 100], "nice": false, "zero": false}, "axis": null},
  "shape": {"field": "s", "type": "nominal", "scale": {"domain": ["1 (OF1)", "1 (OF2)", "2 (OF1)", "2 (OF2)"], "range": ["square", "circle", "square", "circle"]}, "legend": {"title": null, "orient": "none", "legendX": 23, "legendY": 15, "columns": 2, "columnPadding": 37, "rowPadding": 1, "labelExpr": "'For Com. ' + datum.label"}},
  "fill": {"field": "s", "type": "nominal", "scale": {"domain": ["1 (OF1)", "1 (OF2)", "2 (OF1)", "2 (OF2)"], "range": ["#ff0000", "#1010ff", "#ffffff", "#ffffff"]}, "legend": {"title": null, "orient": "none", "legendX": 23, "legendY": 15, "columns": 2, "columnPadding": 37, "rowPadding": 1, "labelExpr": "'For Com. ' + datum.label"}},
  "stroke": {"field": "s", "type": "nominal", "scale": {"domain": ["1 (OF1)", "1 (OF2)", "2 (OF1)", "2 (OF2)"], "range": ["#ff0000", "#0000cc", "#ff0000", "#0000ff"]}, "legend": {"title": null, "orient": "none", "legendX": 23, "legendY": 15, "columns": 2, "columnPadding": 37, "rowPadding": 1, "labelExpr": "'For Com. ' + datum.label"}}}},
{"data": {"name": "pts"}, "transform": [{"filter": "datum.p === 'b' && datum.s === '2 (OF1)'"}], "mark": {"type": "point", "filled": true, "shape": "circle", "size": 5, "color": "#ff0000", "opacity": 1, "clip": true},
 "encoding": {"x": {"field": "x", "type": "quantitative", "scale": {"domain": [0, 15], "nice": false, "zero": false}, "axis": null}, "y": {"field": "v", "type": "quantitative", "scale": {"domain": [-20, 100], "nice": false, "zero": false}, "axis": null}}},
{"data": {"name": "pts"}, "transform": [{"filter": "datum.p === 'b' && datum.s === '2 (OF2)'"}], "mark": {"type": "point", "filled": true, "shape": "circle", "size": 28, "fill": "#d6d6ff", "stroke": "#7070ff", "strokeWidth": 1, "opacity": 1, "clip": true},
 "encoding": {"x": {"field": "x", "type": "quantitative", "scale": {"domain": [0, 15], "nice": false, "zero": false}, "axis": null}, "y": {"field": "v", "type": "quantitative", "scale": {"domain": [-20, 100], "nice": false, "zero": false}, "axis": null}}}
]},
{"title": "(c)", "width": 368, "height": 280, "resolve": {"axis": {"x": "independent", "y": "independent"}},
"layer": [
{"data": {"name": "means"}, "transform": [{"filter": "datum.p === 'c'"}], "mark": {"type": "rule"},
 "encoding": {"y": {"field": "v", "type": "quantitative", "scale": {"domain": [-20, 100], "nice": false, "zero": false}, "axis": null},
  "color": {"field": "of", "type": "nominal", "scale": {"domain": ["OF1", "OF2"], "range": ["#ff0000", "#0000ff"]}, "legend": null},
  "strokeDash": {"field": "of", "type": "nominal", "scale": {"domain": ["OF1", "OF2"], "range": [[1, 0], [2.5, 2.5]]}, "legend": null},
  "strokeWidth": {"field": "of", "type": "nominal", "scale": {"domain": ["OF1", "OF2"], "range": [1.5, 2]}, "legend": null}}},
{"data": {"name": "arrows"}, "transform": [{"filter": "datum.p === 'c'"}], "mark": {"type": "rule", "strokeWidth": 1},
 "encoding": {"x": {"field": "x", "type": "quantitative", "scale": {"domain": [0, 24], "nice": false, "zero": false}, "axis": {"orient": "bottom", "values": [0, 6, 12, 18, 24], "title": "Corresponding No. of RSN"}},
  "y": {"field": "y", "type": "quantitative", "scale": {"domain": [-20, 100], "nice": false, "zero": false}, "axis": {"orient": "left", "values": [-20, 0, 20, 40, 60, 80, 100], "title": "Displacement reduction ratio (%)"}},
  "x2": {"field": "x2"}, "y2": {"field": "y2"},
  "color": {"field": "of", "type": "nominal", "scale": {"domain": ["OF1", "OF2"], "range": ["#ff0000", "#0000ff"]}, "legend": null}}},
{"data": {"name": "arrows"}, "transform": [{"filter": "datum.p === 'c' && datum.of === 'OF1'"}], "mark": {"type": "point", "shape": "M0,0L0.45,2L-0.45,2Z", "filled": true, "color": "#ff0000", "opacity": 1, "size": 100, "angle": 164.4, "strokeWidth": 0},
 "encoding": {"x": {"field": "x2", "type": "quantitative", "scale": {"domain": [0, 24], "nice": false, "zero": false}, "axis": null}, "y": {"field": "y2", "type": "quantitative", "scale": {"domain": [-20, 100], "nice": false, "zero": false}, "axis": null}}},
{"data": {"name": "arrows"}, "transform": [{"filter": "datum.p === 'c' && datum.of === 'OF2'"}], "mark": {"type": "point", "shape": "M0,0L0.45,2L-0.45,2Z", "filled": true, "color": "#0000ff", "opacity": 1, "size": 100, "angle": 20.8, "strokeWidth": 0},
 "encoding": {"x": {"field": "x2", "type": "quantitative", "scale": {"domain": [0, 24], "nice": false, "zero": false}, "axis": null}, "y": {"field": "y2", "type": "quantitative", "scale": {"domain": [-20, 100], "nice": false, "zero": false}, "axis": null}}},
{"data": {"name": "notes"}, "transform": [{"filter": "datum.p === 'c'"}], "mark": {"type": "text", "fontSize": 19, "font": "Liberation Serif"},
 "encoding": {"x": {"field": "x", "type": "quantitative", "scale": {"domain": [0, 24], "nice": false, "zero": false}, "axis": null}, "y": {"field": "y", "type": "quantitative", "scale": {"domain": [-20, 100], "nice": false, "zero": false}, "axis": null}, "text": {"field": "t"},
  "color": {"field": "of", "type": "nominal", "scale": {"domain": ["OF1", "OF2"], "range": ["#ff0000", "#0000ff"]}, "legend": null}}},
{"data": {"name": "pts"}, "transform": [{"filter": "datum.p === 'c' && (datum.s === '1 (OF1)' || datum.s === '1 (OF2)')"}], "mark": {"type": "point", "filled": true, "size": 180, "strokeWidth": 1.5, "opacity": 1, "clip": true},
 "encoding": {"x": {"field": "x", "type": "quantitative", "scale": {"domain": [0, 24], "nice": false, "zero": false}, "axis": {"orient": "top", "values": [0, 6, 12, 18, 24], "labels": false, "title": null}},
  "y": {"field": "v", "type": "quantitative", "scale": {"domain": [-20, 100], "nice": false, "zero": false}, "axis": {"orient": "right", "values": [-20, 0, 20, 40, 60, 80, 100], "labels": false, "title": null}},
  "shape": {"field": "s", "type": "nominal", "scale": {"domain": ["1 (OF1)", "1 (OF2)", "2 (OF1)", "2 (OF2)"], "range": ["square", "circle", "square", "circle"]}, "legend": {"title": null, "orient": "none", "legendX": 23, "legendY": 15, "columns": 2, "columnPadding": 37, "rowPadding": 1, "labelExpr": "'For Com. ' + datum.label"}},
  "fill": {"field": "s", "type": "nominal", "scale": {"domain": ["1 (OF1)", "1 (OF2)", "2 (OF1)", "2 (OF2)"], "range": ["#ff0000", "#1010ff", "#ffffff", "#ffffff"]}, "legend": {"title": null, "orient": "none", "legendX": 23, "legendY": 15, "columns": 2, "columnPadding": 37, "rowPadding": 1, "labelExpr": "'For Com. ' + datum.label"}},
  "stroke": {"field": "s", "type": "nominal", "scale": {"domain": ["1 (OF1)", "1 (OF2)", "2 (OF1)", "2 (OF2)"], "range": ["#ff0000", "#0000cc", "#ff0000", "#0000ff"]}, "legend": {"title": null, "orient": "none", "legendX": 23, "legendY": 15, "columns": 2, "columnPadding": 37, "rowPadding": 1, "labelExpr": "'For Com. ' + datum.label"}}}},
{"data": {"name": "pts"}, "transform": [{"filter": "datum.p === 'c' && datum.s === '1 (OF2)'"}], "mark": {"type": "point", "filled": true, "shape": "circle", "size": 180, "strokeWidth": 1, "stroke": "#0000cc", "opacity": 1, "clip": true, "fill": {"gradient": "radial", "x1": 0.35, "y1": 0.3, "r1": 0, "x2": 0.5, "y2": 0.5, "r2": 0.55, "stops": [{"offset": 0, "color": "#ffffff"}, {"offset": 0.18, "color": "#a0a0ff"}, {"offset": 0.45, "color": "#1515ff"}, {"offset": 1, "color": "#0000a8"}]}},
 "encoding": {"x": {"field": "x", "type": "quantitative", "scale": {"domain": [0, 24], "nice": false, "zero": false}, "axis": null}, "y": {"field": "v", "type": "quantitative", "scale": {"domain": [-20, 100], "nice": false, "zero": false}, "axis": null}}},
{"data": {"name": "pts"}, "transform": [{"filter": "datum.p === 'c' && (datum.s === '2 (OF1)' || datum.s === '2 (OF2)')"}], "mark": {"type": "point", "filled": true, "size": 180, "strokeWidth": 1.5, "opacity": 1, "clip": true},
 "encoding": {"x": {"field": "x", "type": "quantitative", "scale": {"domain": [0, 24], "nice": false, "zero": false}, "axis": null},
  "y": {"field": "v", "type": "quantitative", "scale": {"domain": [-20, 100], "nice": false, "zero": false}, "axis": null},
  "shape": {"field": "s", "type": "nominal", "scale": {"domain": ["1 (OF1)", "1 (OF2)", "2 (OF1)", "2 (OF2)"], "range": ["square", "circle", "square", "circle"]}, "legend": {"title": null, "orient": "none", "legendX": 23, "legendY": 15, "columns": 2, "columnPadding": 37, "rowPadding": 1, "labelExpr": "'For Com. ' + datum.label"}},
  "fill": {"field": "s", "type": "nominal", "scale": {"domain": ["1 (OF1)", "1 (OF2)", "2 (OF1)", "2 (OF2)"], "range": ["#ff0000", "#1010ff", "#ffffff", "#ffffff"]}, "legend": {"title": null, "orient": "none", "legendX": 23, "legendY": 15, "columns": 2, "columnPadding": 37, "rowPadding": 1, "labelExpr": "'For Com. ' + datum.label"}},
  "stroke": {"field": "s", "type": "nominal", "scale": {"domain": ["1 (OF1)", "1 (OF2)", "2 (OF1)", "2 (OF2)"], "range": ["#ff0000", "#0000cc", "#ff0000", "#0000ff"]}, "legend": {"title": null, "orient": "none", "legendX": 23, "legendY": 15, "columns": 2, "columnPadding": 37, "rowPadding": 1, "labelExpr": "'For Com. ' + datum.label"}}}},
{"data": {"name": "pts"}, "transform": [{"filter": "datum.p === 'c' && datum.s === '2 (OF1)'"}], "mark": {"type": "point", "filled": true, "shape": "circle", "size": 5, "color": "#ff0000", "opacity": 1, "clip": true},
 "encoding": {"x": {"field": "x", "type": "quantitative", "scale": {"domain": [0, 24], "nice": false, "zero": false}, "axis": null}, "y": {"field": "v", "type": "quantitative", "scale": {"domain": [-20, 100], "nice": false, "zero": false}, "axis": null}}},
{"data": {"name": "pts"}, "transform": [{"filter": "datum.p === 'c' && datum.s === '2 (OF2)'"}], "mark": {"type": "point", "filled": true, "shape": "circle", "size": 28, "fill": "#d6d6ff", "stroke": "#7070ff", "strokeWidth": 1, "opacity": 1, "clip": true},
 "encoding": {"x": {"field": "x", "type": "quantitative", "scale": {"domain": [0, 24], "nice": false, "zero": false}, "axis": null}, "y": {"field": "v", "type": "quantitative", "scale": {"domain": [-20, 100], "nice": false, "zero": false}, "axis": null}}}
]},
{"title": "(d)", "width": 368, "height": 280, "resolve": {"axis": {"x": "independent", "y": "independent"}},
"layer": [
{"data": {"name": "means"}, "transform": [{"filter": "datum.p === 'd'"}], "mark": {"type": "rule"},
 "encoding": {"y": {"field": "v", "type": "quantitative", "scale": {"domain": [-20, 100], "nice": false, "zero": false}, "axis": null},
  "color": {"field": "of", "type": "nominal", "scale": {"domain": ["OF1", "OF2"], "range": ["#ff0000", "#0000ff"]}, "legend": null},
  "strokeDash": {"field": "of", "type": "nominal", "scale": {"domain": ["OF1", "OF2"], "range": [[1, 0], [2.5, 2.5]]}, "legend": null},
  "strokeWidth": {"field": "of", "type": "nominal", "scale": {"domain": ["OF1", "OF2"], "range": [1.5, 2]}, "legend": null}}},
{"data": {"name": "arrows"}, "transform": [{"filter": "datum.p === 'd'"}], "mark": {"type": "rule", "strokeWidth": 1},
 "encoding": {"x": {"field": "x", "type": "quantitative", "scale": {"domain": [0, 15], "nice": false, "zero": false}, "axis": {"orient": "bottom", "values": [0, 3, 6, 9, 12, 15], "title": "Corresponding No. of RSN"}},
  "y": {"field": "y", "type": "quantitative", "scale": {"domain": [-20, 100], "nice": false, "zero": false}, "axis": {"orient": "left", "values": [-20, 0, 20, 40, 60, 80, 100], "title": "Acceleration reduction ratio (%)"}},
  "x2": {"field": "x2"}, "y2": {"field": "y2"},
  "color": {"field": "of", "type": "nominal", "scale": {"domain": ["OF1", "OF2"], "range": ["#ff0000", "#0000ff"]}, "legend": null}}},
{"data": {"name": "arrows"}, "transform": [{"filter": "datum.p === 'd' && datum.of === 'OF1'"}], "mark": {"type": "point", "shape": "M0,0L0.45,2L-0.45,2Z", "filled": true, "color": "#ff0000", "opacity": 1, "size": 100, "angle": 16.7, "strokeWidth": 0},
 "encoding": {"x": {"field": "x2", "type": "quantitative", "scale": {"domain": [0, 15], "nice": false, "zero": false}, "axis": null}, "y": {"field": "y2", "type": "quantitative", "scale": {"domain": [-20, 100], "nice": false, "zero": false}, "axis": null}}},
{"data": {"name": "arrows"}, "transform": [{"filter": "datum.p === 'd' && datum.of === 'OF2'"}], "mark": {"type": "point", "shape": "M0,0L0.45,2L-0.45,2Z", "filled": true, "color": "#0000ff", "opacity": 1, "size": 100, "angle": 155.7, "strokeWidth": 0},
 "encoding": {"x": {"field": "x2", "type": "quantitative", "scale": {"domain": [0, 15], "nice": false, "zero": false}, "axis": null}, "y": {"field": "y2", "type": "quantitative", "scale": {"domain": [-20, 100], "nice": false, "zero": false}, "axis": null}}},
{"data": {"name": "notes"}, "transform": [{"filter": "datum.p === 'd'"}], "mark": {"type": "text", "fontSize": 19, "font": "Liberation Serif"},
 "encoding": {"x": {"field": "x", "type": "quantitative", "scale": {"domain": [0, 15], "nice": false, "zero": false}, "axis": null}, "y": {"field": "y", "type": "quantitative", "scale": {"domain": [-20, 100], "nice": false, "zero": false}, "axis": null}, "text": {"field": "t"},
  "color": {"field": "of", "type": "nominal", "scale": {"domain": ["OF1", "OF2"], "range": ["#ff0000", "#0000ff"]}, "legend": null}}},
{"data": {"name": "pts"}, "transform": [{"filter": "datum.p === 'd' && (datum.s === '1 (OF1)' || datum.s === '1 (OF2)')"}], "mark": {"type": "point", "filled": true, "size": 180, "strokeWidth": 1.5, "opacity": 1, "clip": true},
 "encoding": {"x": {"field": "x", "type": "quantitative", "scale": {"domain": [0, 15], "nice": false, "zero": false}, "axis": {"orient": "top", "values": [0, 3, 6, 9, 12, 15], "labels": false, "title": null}},
  "y": {"field": "v", "type": "quantitative", "scale": {"domain": [-20, 100], "nice": false, "zero": false}, "axis": {"orient": "right", "values": [-20, 0, 20, 40, 60, 80, 100], "labels": false, "title": null}},
  "shape": {"field": "s", "type": "nominal", "scale": {"domain": ["1 (OF1)", "1 (OF2)", "2 (OF1)", "2 (OF2)"], "range": ["square", "circle", "square", "circle"]}, "legend": {"title": null, "orient": "none", "legendX": 23, "legendY": 15, "columns": 2, "columnPadding": 37, "rowPadding": 1, "labelExpr": "'For Com. ' + datum.label"}},
  "fill": {"field": "s", "type": "nominal", "scale": {"domain": ["1 (OF1)", "1 (OF2)", "2 (OF1)", "2 (OF2)"], "range": ["#ff0000", "#1010ff", "#ffffff", "#ffffff"]}, "legend": {"title": null, "orient": "none", "legendX": 23, "legendY": 15, "columns": 2, "columnPadding": 37, "rowPadding": 1, "labelExpr": "'For Com. ' + datum.label"}},
  "stroke": {"field": "s", "type": "nominal", "scale": {"domain": ["1 (OF1)", "1 (OF2)", "2 (OF1)", "2 (OF2)"], "range": ["#ff0000", "#0000cc", "#ff0000", "#0000ff"]}, "legend": {"title": null, "orient": "none", "legendX": 23, "legendY": 15, "columns": 2, "columnPadding": 37, "rowPadding": 1, "labelExpr": "'For Com. ' + datum.label"}}}},
{"data": {"name": "pts"}, "transform": [{"filter": "datum.p === 'd' && datum.s === '1 (OF2)'"}], "mark": {"type": "point", "filled": true, "shape": "circle", "size": 180, "strokeWidth": 1, "stroke": "#0000cc", "opacity": 1, "clip": true, "fill": {"gradient": "radial", "x1": 0.35, "y1": 0.3, "r1": 0, "x2": 0.5, "y2": 0.5, "r2": 0.55, "stops": [{"offset": 0, "color": "#ffffff"}, {"offset": 0.18, "color": "#a0a0ff"}, {"offset": 0.45, "color": "#1515ff"}, {"offset": 1, "color": "#0000a8"}]}},
 "encoding": {"x": {"field": "x", "type": "quantitative", "scale": {"domain": [0, 15], "nice": false, "zero": false}, "axis": null}, "y": {"field": "v", "type": "quantitative", "scale": {"domain": [-20, 100], "nice": false, "zero": false}, "axis": null}}},
{"data": {"name": "pts"}, "transform": [{"filter": "datum.p === 'd' && (datum.s === '2 (OF1)' || datum.s === '2 (OF2)')"}], "mark": {"type": "point", "filled": true, "size": 180, "strokeWidth": 1.5, "opacity": 1, "clip": true},
 "encoding": {"x": {"field": "x", "type": "quantitative", "scale": {"domain": [0, 15], "nice": false, "zero": false}, "axis": null},
  "y": {"field": "v", "type": "quantitative", "scale": {"domain": [-20, 100], "nice": false, "zero": false}, "axis": null},
  "shape": {"field": "s", "type": "nominal", "scale": {"domain": ["1 (OF1)", "1 (OF2)", "2 (OF1)", "2 (OF2)"], "range": ["square", "circle", "square", "circle"]}, "legend": {"title": null, "orient": "none", "legendX": 23, "legendY": 15, "columns": 2, "columnPadding": 37, "rowPadding": 1, "labelExpr": "'For Com. ' + datum.label"}},
  "fill": {"field": "s", "type": "nominal", "scale": {"domain": ["1 (OF1)", "1 (OF2)", "2 (OF1)", "2 (OF2)"], "range": ["#ff0000", "#1010ff", "#ffffff", "#ffffff"]}, "legend": {"title": null, "orient": "none", "legendX": 23, "legendY": 15, "columns": 2, "columnPadding": 37, "rowPadding": 1, "labelExpr": "'For Com. ' + datum.label"}},
  "stroke": {"field": "s", "type": "nominal", "scale": {"domain": ["1 (OF1)", "1 (OF2)", "2 (OF1)", "2 (OF2)"], "range": ["#ff0000", "#0000cc", "#ff0000", "#0000ff"]}, "legend": {"title": null, "orient": "none", "legendX": 23, "legendY": 15, "columns": 2, "columnPadding": 37, "rowPadding": 1, "labelExpr": "'For Com. ' + datum.label"}}}},
{"data": {"name": "pts"}, "transform": [{"filter": "datum.p === 'd' && datum.s === '2 (OF1)'"}], "mark": {"type": "point", "filled": true, "shape": "circle", "size": 5, "color": "#ff0000", "opacity": 1, "clip": true},
 "encoding": {"x": {"field": "x", "type": "quantitative", "scale": {"domain": [0, 15], "nice": false, "zero": false}, "axis": null}, "y": {"field": "v", "type": "quantitative", "scale": {"domain": [-20, 100], "nice": false, "zero": false}, "axis": null}}},
{"data": {"name": "pts"}, "transform": [{"filter": "datum.p === 'd' && datum.s === '2 (OF2)'"}], "mark": {"type": "point", "filled": true, "shape": "circle", "size": 28, "fill": "#d6d6ff", "stroke": "#7070ff", "strokeWidth": 1, "opacity": 1, "clip": true},
 "encoding": {"x": {"field": "x", "type": "quantitative", "scale": {"domain": [0, 15], "nice": false, "zero": false}, "axis": null}, "y": {"field": "v", "type": "quantitative", "scale": {"domain": [-20, 100], "nice": false, "zero": false}, "axis": null}}}
]},
{"title": "(e)", "width": 368, "height": 280, "resolve": {"axis": {"x": "independent", "y": "independent"}},
"layer": [
{"data": {"name": "means"}, "transform": [{"filter": "datum.p === 'e'"}], "mark": {"type": "rule"},
 "encoding": {"y": {"field": "v", "type": "quantitative", "scale": {"domain": [-20, 100], "nice": false, "zero": false}, "axis": null},
  "color": {"field": "of", "type": "nominal", "scale": {"domain": ["OF1", "OF2"], "range": ["#ff0000", "#0000ff"]}, "legend": null},
  "strokeDash": {"field": "of", "type": "nominal", "scale": {"domain": ["OF1", "OF2"], "range": [[1, 0], [2.5, 2.5]]}, "legend": null},
  "strokeWidth": {"field": "of", "type": "nominal", "scale": {"domain": ["OF1", "OF2"], "range": [1.5, 2]}, "legend": null}}},
{"data": {"name": "arrows"}, "transform": [{"filter": "datum.p === 'e'"}], "mark": {"type": "rule", "strokeWidth": 1},
 "encoding": {"x": {"field": "x", "type": "quantitative", "scale": {"domain": [0, 15], "nice": false, "zero": false}, "axis": {"orient": "bottom", "values": [0, 3, 6, 9, 12, 15], "title": "Corresponding No. of RSN"}},
  "y": {"field": "y", "type": "quantitative", "scale": {"domain": [-20, 100], "nice": false, "zero": false}, "axis": {"orient": "left", "values": [-20, 0, 20, 40, 60, 80, 100], "title": "Acceleration reduction ratio (%)"}},
  "x2": {"field": "x2"}, "y2": {"field": "y2"},
  "color": {"field": "of", "type": "nominal", "scale": {"domain": ["OF1", "OF2"], "range": ["#ff0000", "#0000ff"]}, "legend": null}}},
{"data": {"name": "arrows"}, "transform": [{"filter": "datum.p === 'e' && datum.of === 'OF1'"}], "mark": {"type": "point", "shape": "M0,0L0.45,2L-0.45,2Z", "filled": true, "color": "#ff0000", "opacity": 1, "size": 100, "angle": 29.5, "strokeWidth": 0},
 "encoding": {"x": {"field": "x2", "type": "quantitative", "scale": {"domain": [0, 15], "nice": false, "zero": false}, "axis": null}, "y": {"field": "y2", "type": "quantitative", "scale": {"domain": [-20, 100], "nice": false, "zero": false}, "axis": null}}},
{"data": {"name": "arrows"}, "transform": [{"filter": "datum.p === 'e' && datum.of === 'OF2'"}], "mark": {"type": "point", "shape": "M0,0L0.45,2L-0.45,2Z", "filled": true, "color": "#0000ff", "opacity": 1, "size": 100, "angle": 203.2, "strokeWidth": 0},
 "encoding": {"x": {"field": "x2", "type": "quantitative", "scale": {"domain": [0, 15], "nice": false, "zero": false}, "axis": null}, "y": {"field": "y2", "type": "quantitative", "scale": {"domain": [-20, 100], "nice": false, "zero": false}, "axis": null}}},
{"data": {"name": "notes"}, "transform": [{"filter": "datum.p === 'e'"}], "mark": {"type": "text", "fontSize": 19, "font": "Liberation Serif"},
 "encoding": {"x": {"field": "x", "type": "quantitative", "scale": {"domain": [0, 15], "nice": false, "zero": false}, "axis": null}, "y": {"field": "y", "type": "quantitative", "scale": {"domain": [-20, 100], "nice": false, "zero": false}, "axis": null}, "text": {"field": "t"},
  "color": {"field": "of", "type": "nominal", "scale": {"domain": ["OF1", "OF2"], "range": ["#ff0000", "#0000ff"]}, "legend": null}}},
{"data": {"name": "pts"}, "transform": [{"filter": "datum.p === 'e' && (datum.s === '1 (OF1)' || datum.s === '1 (OF2)')"}], "mark": {"type": "point", "filled": true, "size": 180, "strokeWidth": 1.5, "opacity": 1, "clip": true},
 "encoding": {"x": {"field": "x", "type": "quantitative", "scale": {"domain": [0, 15], "nice": false, "zero": false}, "axis": {"orient": "top", "values": [0, 3, 6, 9, 12, 15], "labels": false, "title": null}},
  "y": {"field": "v", "type": "quantitative", "scale": {"domain": [-20, 100], "nice": false, "zero": false}, "axis": {"orient": "right", "values": [-20, 0, 20, 40, 60, 80, 100], "labels": false, "title": null}},
  "shape": {"field": "s", "type": "nominal", "scale": {"domain": ["1 (OF1)", "1 (OF2)", "2 (OF1)", "2 (OF2)"], "range": ["square", "circle", "square", "circle"]}, "legend": {"title": null, "orient": "none", "legendX": 23, "legendY": 15, "columns": 2, "columnPadding": 37, "rowPadding": 1, "labelExpr": "'For Com. ' + datum.label"}},
  "fill": {"field": "s", "type": "nominal", "scale": {"domain": ["1 (OF1)", "1 (OF2)", "2 (OF1)", "2 (OF2)"], "range": ["#ff0000", "#1010ff", "#ffffff", "#ffffff"]}, "legend": {"title": null, "orient": "none", "legendX": 23, "legendY": 15, "columns": 2, "columnPadding": 37, "rowPadding": 1, "labelExpr": "'For Com. ' + datum.label"}},
  "stroke": {"field": "s", "type": "nominal", "scale": {"domain": ["1 (OF1)", "1 (OF2)", "2 (OF1)", "2 (OF2)"], "range": ["#ff0000", "#0000cc", "#ff0000", "#0000ff"]}, "legend": {"title": null, "orient": "none", "legendX": 23, "legendY": 15, "columns": 2, "columnPadding": 37, "rowPadding": 1, "labelExpr": "'For Com. ' + datum.label"}}}},
{"data": {"name": "pts"}, "transform": [{"filter": "datum.p === 'e' && datum.s === '1 (OF2)'"}], "mark": {"type": "point", "filled": true, "shape": "circle", "size": 180, "strokeWidth": 1, "stroke": "#0000cc", "opacity": 1, "clip": true, "fill": {"gradient": "radial", "x1": 0.35, "y1": 0.3, "r1": 0, "x2": 0.5, "y2": 0.5, "r2": 0.55, "stops": [{"offset": 0, "color": "#ffffff"}, {"offset": 0.18, "color": "#a0a0ff"}, {"offset": 0.45, "color": "#1515ff"}, {"offset": 1, "color": "#0000a8"}]}},
 "encoding": {"x": {"field": "x", "type": "quantitative", "scale": {"domain": [0, 15], "nice": false, "zero": false}, "axis": null}, "y": {"field": "v", "type": "quantitative", "scale": {"domain": [-20, 100], "nice": false, "zero": false}, "axis": null}}},
{"data": {"name": "pts"}, "transform": [{"filter": "datum.p === 'e' && (datum.s === '2 (OF1)' || datum.s === '2 (OF2)')"}], "mark": {"type": "point", "filled": true, "size": 180, "strokeWidth": 1.5, "opacity": 1, "clip": true},
 "encoding": {"x": {"field": "x", "type": "quantitative", "scale": {"domain": [0, 15], "nice": false, "zero": false}, "axis": null},
  "y": {"field": "v", "type": "quantitative", "scale": {"domain": [-20, 100], "nice": false, "zero": false}, "axis": null},
  "shape": {"field": "s", "type": "nominal", "scale": {"domain": ["1 (OF1)", "1 (OF2)", "2 (OF1)", "2 (OF2)"], "range": ["square", "circle", "square", "circle"]}, "legend": {"title": null, "orient": "none", "legendX": 23, "legendY": 15, "columns": 2, "columnPadding": 37, "rowPadding": 1, "labelExpr": "'For Com. ' + datum.label"}},
  "fill": {"field": "s", "type": "nominal", "scale": {"domain": ["1 (OF1)", "1 (OF2)", "2 (OF1)", "2 (OF2)"], "range": ["#ff0000", "#1010ff", "#ffffff", "#ffffff"]}, "legend": {"title": null, "orient": "none", "legendX": 23, "legendY": 15, "columns": 2, "columnPadding": 37, "rowPadding": 1, "labelExpr": "'For Com. ' + datum.label"}},
  "stroke": {"field": "s", "type": "nominal", "scale": {"domain": ["1 (OF1)", "1 (OF2)", "2 (OF1)", "2 (OF2)"], "range": ["#ff0000", "#0000cc", "#ff0000", "#0000ff"]}, "legend": {"title": null, "orient": "none", "legendX": 23, "legendY": 15, "columns": 2, "columnPadding": 37, "rowPadding": 1, "labelExpr": "'For Com. ' + datum.label"}}}},
{"data": {"name": "pts"}, "transform": [{"filter": "datum.p === 'e' && datum.s === '2 (OF1)'"}], "mark": {"type": "point", "filled": true, "shape": "circle", "size": 5, "color": "#ff0000", "opacity": 1, "clip": true},
 "encoding": {"x": {"field": "x", "type": "quantitative", "scale": {"domain": [0, 15], "nice": false, "zero": false}, "axis": null}, "y": {"field": "v", "type": "quantitative", "scale": {"domain": [-20, 100], "nice": false, "zero": false}, "axis": null}}},
{"data": {"name": "pts"}, "transform": [{"filter": "datum.p === 'e' && datum.s === '2 (OF2)'"}], "mark": {"type": "point", "filled": true, "shape": "circle", "size": 28, "fill": "#d6d6ff", "stroke": "#7070ff", "strokeWidth": 1, "opacity": 1, "clip": true},
 "encoding": {"x": {"field": "x", "type": "quantitative", "scale": {"domain": [0, 15], "nice": false, "zero": false}, "axis": null}, "y": {"field": "v", "type": "quantitative", "scale": {"domain": [-20, 100], "nice": false, "zero": false}, "axis": null}}}
]},
{"title": "(f)", "width": 368, "height": 280, "resolve": {"axis": {"x": "independent", "y": "independent"}},
"layer": [
{"data": {"name": "means"}, "transform": [{"filter": "datum.p === 'f'"}], "mark": {"type": "rule"},
 "encoding": {"y": {"field": "v", "type": "quantitative", "scale": {"domain": [-20, 100], "nice": false, "zero": false}, "axis": null},
  "color": {"field": "of", "type": "nominal", "scale": {"domain": ["OF1", "OF2"], "range": ["#ff0000", "#0000ff"]}, "legend": null},
  "strokeDash": {"field": "of", "type": "nominal", "scale": {"domain": ["OF1", "OF2"], "range": [[1, 0], [2.5, 2.5]]}, "legend": null},
  "strokeWidth": {"field": "of", "type": "nominal", "scale": {"domain": ["OF1", "OF2"], "range": [1.5, 2]}, "legend": null}}},
{"data": {"name": "arrows"}, "transform": [{"filter": "datum.p === 'f'"}], "mark": {"type": "rule", "strokeWidth": 1},
 "encoding": {"x": {"field": "x", "type": "quantitative", "scale": {"domain": [0, 24], "nice": false, "zero": false}, "axis": {"orient": "bottom", "values": [0, 6, 12, 18, 24], "title": "Corresponding No. of RSN"}},
  "y": {"field": "y", "type": "quantitative", "scale": {"domain": [-20, 100], "nice": false, "zero": false}, "axis": {"orient": "left", "values": [-20, 0, 20, 40, 60, 80, 100], "title": "Acceleration reduction ratio (%)"}},
  "x2": {"field": "x2"}, "y2": {"field": "y2"},
  "color": {"field": "of", "type": "nominal", "scale": {"domain": ["OF1", "OF2"], "range": ["#ff0000", "#0000ff"]}, "legend": null}}},
{"data": {"name": "arrows"}, "transform": [{"filter": "datum.p === 'f' && datum.of === 'OF1'"}], "mark": {"type": "point", "shape": "M0,0L0.45,2L-0.45,2Z", "filled": true, "color": "#ff0000", "opacity": 1, "size": 100, "angle": 24.4, "strokeWidth": 0},
 "encoding": {"x": {"field": "x2", "type": "quantitative", "scale": {"domain": [0, 24], "nice": false, "zero": false}, "axis": null}, "y": {"field": "y2", "type": "quantitative", "scale": {"domain": [-20, 100], "nice": false, "zero": false}, "axis": null}}},
{"data": {"name": "arrows"}, "transform": [{"filter": "datum.p === 'f' && datum.of === 'OF2'"}], "mark": {"type": "point", "shape": "M0,0L0.45,2L-0.45,2Z", "filled": true, "color": "#0000ff", "opacity": 1, "size": 100, "angle": 159.7, "strokeWidth": 0},
 "encoding": {"x": {"field": "x2", "type": "quantitative", "scale": {"domain": [0, 24], "nice": false, "zero": false}, "axis": null}, "y": {"field": "y2", "type": "quantitative", "scale": {"domain": [-20, 100], "nice": false, "zero": false}, "axis": null}}},
{"data": {"name": "notes"}, "transform": [{"filter": "datum.p === 'f'"}], "mark": {"type": "text", "fontSize": 19, "font": "Liberation Serif"},
 "encoding": {"x": {"field": "x", "type": "quantitative", "scale": {"domain": [0, 24], "nice": false, "zero": false}, "axis": null}, "y": {"field": "y", "type": "quantitative", "scale": {"domain": [-20, 100], "nice": false, "zero": false}, "axis": null}, "text": {"field": "t"},
  "color": {"field": "of", "type": "nominal", "scale": {"domain": ["OF1", "OF2"], "range": ["#ff0000", "#0000ff"]}, "legend": null}}},
{"data": {"name": "pts"}, "transform": [{"filter": "datum.p === 'f' && (datum.s === '1 (OF1)' || datum.s === '1 (OF2)')"}], "mark": {"type": "point", "filled": true, "size": 180, "strokeWidth": 1.5, "opacity": 1, "clip": true},
 "encoding": {"x": {"field": "x", "type": "quantitative", "scale": {"domain": [0, 24], "nice": false, "zero": false}, "axis": {"orient": "top", "values": [0, 6, 12, 18, 24], "labels": false, "title": null}},
  "y": {"field": "v", "type": "quantitative", "scale": {"domain": [-20, 100], "nice": false, "zero": false}, "axis": {"orient": "right", "values": [-20, 0, 20, 40, 60, 80, 100], "labels": false, "title": null}},
  "shape": {"field": "s", "type": "nominal", "scale": {"domain": ["1 (OF1)", "1 (OF2)", "2 (OF1)", "2 (OF2)"], "range": ["square", "circle", "square", "circle"]}, "legend": {"title": null, "orient": "none", "legendX": 23, "legendY": 15, "columns": 2, "columnPadding": 37, "rowPadding": 1, "labelExpr": "'For Com. ' + datum.label"}},
  "fill": {"field": "s", "type": "nominal", "scale": {"domain": ["1 (OF1)", "1 (OF2)", "2 (OF1)", "2 (OF2)"], "range": ["#ff0000", "#1010ff", "#ffffff", "#ffffff"]}, "legend": {"title": null, "orient": "none", "legendX": 23, "legendY": 15, "columns": 2, "columnPadding": 37, "rowPadding": 1, "labelExpr": "'For Com. ' + datum.label"}},
  "stroke": {"field": "s", "type": "nominal", "scale": {"domain": ["1 (OF1)", "1 (OF2)", "2 (OF1)", "2 (OF2)"], "range": ["#ff0000", "#0000cc", "#ff0000", "#0000ff"]}, "legend": {"title": null, "orient": "none", "legendX": 23, "legendY": 15, "columns": 2, "columnPadding": 37, "rowPadding": 1, "labelExpr": "'For Com. ' + datum.label"}}}},
{"data": {"name": "pts"}, "transform": [{"filter": "datum.p === 'f' && datum.s === '1 (OF2)'"}], "mark": {"type": "point", "filled": true, "shape": "circle", "size": 180, "strokeWidth": 1, "stroke": "#0000cc", "opacity": 1, "clip": true, "fill": {"gradient": "radial", "x1": 0.35, "y1": 0.3, "r1": 0, "x2": 0.5, "y2": 0.5, "r2": 0.55, "stops": [{"offset": 0, "color": "#ffffff"}, {"offset": 0.18, "color": "#a0a0ff"}, {"offset": 0.45, "color": "#1515ff"}, {"offset": 1, "color": "#0000a8"}]}},
 "encoding": {"x": {"field": "x", "type": "quantitative", "scale": {"domain": [0, 24], "nice": false, "zero": false}, "axis": null}, "y": {"field": "v", "type": "quantitative", "scale": {"domain": [-20, 100], "nice": false, "zero": false}, "axis": null}}},
{"data": {"name": "pts"}, "transform": [{"filter": "datum.p === 'f' && (datum.s === '2 (OF1)' || datum.s === '2 (OF2)')"}], "mark": {"type": "point", "filled": true, "size": 180, "strokeWidth": 1.5, "opacity": 1, "clip": true},
 "encoding": {"x": {"field": "x", "type": "quantitative", "scale": {"domain": [0, 24], "nice": false, "zero": false}, "axis": null},
  "y": {"field": "v", "type": "quantitative", "scale": {"domain": [-20, 100], "nice": false, "zero": false}, "axis": null},
  "shape": {"field": "s", "type": "nominal", "scale": {"domain": ["1 (OF1)", "1 (OF2)", "2 (OF1)", "2 (OF2)"], "range": ["square", "circle", "square", "circle"]}, "legend": {"title": null, "orient": "none", "legendX": 23, "legendY": 15, "columns": 2, "columnPadding": 37, "rowPadding": 1, "labelExpr": "'For Com. ' + datum.label"}},
  "fill": {"field": "s", "type": "nominal", "scale": {"domain": ["1 (OF1)", "1 (OF2)", "2 (OF1)", "2 (OF2)"], "range": ["#ff0000", "#1010ff", "#ffffff", "#ffffff"]}, "legend": {"title": null, "orient": "none", "legendX": 23, "legendY": 15, "columns": 2, "columnPadding": 37, "rowPadding": 1, "labelExpr": "'For Com. ' + datum.label"}},
  "stroke": {"field": "s", "type": "nominal", "scale": {"domain": ["1 (OF1)", "1 (OF2)", "2 (OF1)", "2 (OF2)"], "range": ["#ff0000", "#0000cc", "#ff0000", "#0000ff"]}, "legend": {"title": null, "orient": "none", "legendX": 23, "legendY": 15, "columns": 2, "columnPadding": 37, "rowPadding": 1, "labelExpr": "'For Com. ' + datum.label"}}}},
{"data": {"name": "pts"}, "transform": [{"filter": "datum.p === 'f' && datum.s === '2 (OF1)'"}], "mark": {"type": "point", "filled": true, "shape": "circle", "size": 5, "color": "#ff0000", "opacity": 1, "clip": true},
 "encoding": {"x": {"field": "x", "type": "quantitative", "scale": {"domain": [0, 24], "nice": false, "zero": false}, "axis": null}, "y": {"field": "v", "type": "quantitative", "scale": {"domain": [-20, 100], "nice": false, "zero": false}, "axis": null}}},
{"data": {"name": "pts"}, "transform": [{"filter": "datum.p === 'f' && datum.s === '2 (OF2)'"}], "mark": {"type": "point", "filled": true, "shape": "circle", "size": 28, "fill": "#d6d6ff", "stroke": "#7070ff", "strokeWidth": 1, "opacity": 1, "clip": true},
 "encoding": {"x": {"field": "x", "type": "quantitative", "scale": {"domain": [0, 24], "nice": false, "zero": false}, "axis": null}, "y": {"field": "v", "type": "quantitative", "scale": {"domain": [-20, 100], "nice": false, "zero": false}, "axis": null}}}
]}
],
"config": {
 "font": "Liberation Serif",
 "view": {"stroke": "#333333", "strokeWidth": 1.5},
 "axis": {"labelFont": "Liberation Serif", "titleFont": "Liberation Serif", "labelFontSize": 19, "titleFontSize": 21, "titleFontWeight": "normal", "labelColor": "#000000", "titleColor": "#000000", "tickColor": "#333333", "tickWidth": 1.2, "tickSize": -8, "domain": false, "grid": false, "labelPadding": 12, "titlePadding": 1},
 "axisY": {"labelPadding": 22, "titlePadding": 1},
 "legend": {"labelFont": "Liberation Serif", "labelFontSize": 16, "labelColor": "#000000", "symbolSize": 180, "symbolStrokeWidth": 1.5, "labelOffset": 12, "padding": 0},
 "title": {"font": "Liberation Serif", "fontSize": 21, "fontWeight": "normal", "anchor": "start", "frame": "bounds", "color": "#000000", "dx": -8, "offset": 10}
}
}
